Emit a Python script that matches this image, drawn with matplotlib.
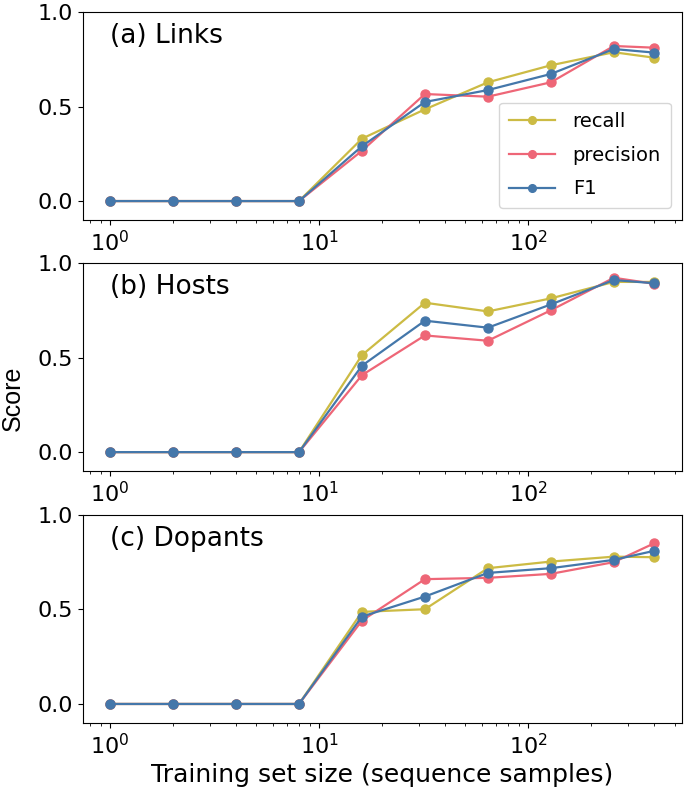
import matplotlib
matplotlib.use("Agg")
import matplotlib.pyplot as plt

plt.rcParams['font.family'] = ['DejaVu Sans']

sizes = [1, 2, 4, 8, 16, 32, 64, 128, 256, 400]

panel_titles = ["(a) Links", "(b) Hosts", "(c) Dopants"]

recall = [
    [0, 0, 0, 0, 0.33, 0.485, 0.628, 0.718, 0.787, 0.758],
    [0, 0, 0, 0, 0.513, 0.79, 0.744, 0.813, 0.90, 0.90],
    [0, 0, 0, 0, 0.487, 0.501, 0.718, 0.753, 0.779, 0.776],
]
precision = [
    [0, 0, 0, 0, 0.266, 0.566, 0.552, 0.628, 0.82, 0.811],
    [0, 0, 0, 0, 0.407, 0.617, 0.589, 0.75, 0.922, 0.89],
    [0, 0, 0, 0, 0.441, 0.66, 0.667, 0.688, 0.75, 0.85],
]
f1 = [
    [0, 0, 0, 0, 0.29, 0.524, 0.587, 0.672, 0.804, 0.785],
    [0, 0, 0, 0, 0.457, 0.695, 0.658, 0.781, 0.91, 0.893],
    [0, 0, 0, 0, 0.462, 0.568, 0.693, 0.718, 0.762, 0.81],
]

colors = {"recall": "#CCBB44", "precision": "#EE6677", "F1": "#4477AA"}

fig = plt.figure(figsize=(6.85, 7.97), dpi=100)
bottoms = [0.724, 0.409, 0.093]
axes = [fig.add_axes([0.121, b, 0.874, 0.261]) for b in bottoms]

for i, ax in enumerate(axes):
    ax.plot(sizes, recall[i], marker='o', ms=6.5, lw=1.6, color=colors["recall"], label="recall")
    ax.plot(sizes, precision[i], marker='o', ms=6.5, lw=1.6, color=colors["precision"], label="precision")
    ax.plot(sizes, f1[i], marker='o', ms=6.5, lw=1.6, color=colors["F1"], label="F1")
    ax.set_xscale('log')
    ax.set_ylim(-0.1, 1.0)
    ax.set_yticks([0.0, 0.5, 1.0])
    ax.tick_params(labelsize=16)
    ax.text(0.045, 0.885, panel_titles[i], transform=ax.transAxes, fontsize=19, va='center')

axes[0].legend(loc='lower right', fontsize=14, bbox_to_anchor=(0.998, 0.01), markerscale=0.85,
               handlelength=2.4, handletextpad=0.9, labelspacing=0.75, borderpad=0.5)
axes[2].set_xlabel("Training set size (sequence samples)", fontsize=18)
fig.text(0.018, 0.5, "Score", rotation=90, fontsize=18, va='center', ha='center',
         family='Liberation Sans')

fig.savefig("out.png", dpi=100)
